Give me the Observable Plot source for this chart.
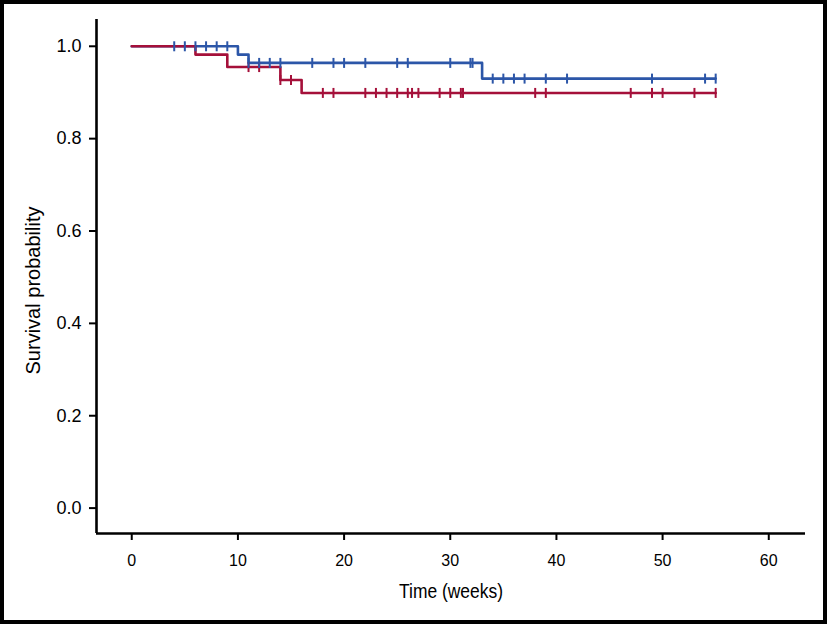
<!DOCTYPE html>
<html><head><meta charset="utf-8">
<script src="https://cdn.jsdelivr.net/npm/d3@7"></script>
<script src="https://cdn.jsdelivr.net/npm/@observablehq/plot@0.6"></script>
<style>
body{margin:0;background:#fff;}
#chart svg{display:block;outline:4px solid #000;outline-offset:-4px;}
</style></head><body><div id="chart"></div>
<script>
const xTicks = [0, 10, 20, 30, 40, 50, 60];
const yTicks = [0, 0.2, 0.4, 0.6, 0.8, 1.0];
const xDomain = [-3.32, 63.46];
const yDomain = [-0.055, 1.058];
const xTitle = "Time (weeks)";
const yTitle = "Survival probability";

const blueTimes = [0, 10, 11, 33, 55];
const blueSurv = [1, 0.982, 0.964, 0.930, 0.930];
const blueCensor = [4, 5, 6, 7, 8, 9, 11, 12, 13, 14, 17, 19, 20, 22, 25, 26, 30, 31.9, 32.1, 34, 35, 36, 37, 39, 41, 49, 54, 55];

const redTimes = [0, 6, 9, 14, 16, 55];
const redSurv = [1, 0.982, 0.955, 0.927, 0.899, 0.899];
const redCensor = [11, 12, 14, 15, 18, 19, 22, 23, 24, 25, 26, 26.4, 27, 29, 30, 31, 31.2, 38, 39, 47, 49, 50, 53, 55];

const blueColor = "#2c56a8";
const redColor = "#a5103a";

function steps(times, surv) { return times.map((t, i) => ({t, s: surv[i]})); }
function censors(times, surv, cens) {
  return cens.map(c => {
    let s = surv[0];
    for (let i = 0; i < times.length; i++) if (times[i] <= c) s = surv[i];
    return {t: c, s};
  });
}
const tickSymbol = {draw(ctx, size) { const r = Math.sqrt(size / Math.PI); ctx.moveTo(0, -r); ctx.lineTo(0, r); }};
const sans = "Liberation Sans, Arial, Helvetica, sans-serif";

const chart = Plot.plot({
  width: 827, height: 624,
  marginLeft: 96, marginRight: 22, marginTop: 19, marginBottom: 91,
  x: {domain: xDomain},
  y: {domain: yDomain},
  marks: [
    Plot.ruleX([xDomain[0]], {y1: yDomain[0], y2: yDomain[1], stroke: "#000", strokeWidth: 2.6}),
    Plot.ruleY([yDomain[0]], {x1: xDomain[0], x2: xDomain[1], stroke: "#000", strokeWidth: 2.6}),
    Plot.axisY(yTicks, {tickSize: 7, tickPadding: 8, tickFormat: d3.format(".1f"), fontSize: 18, fontFamily: sans, strokeWidth: 2, label: null, color: "#000"}),
    Plot.axisX(xTicks, {tickSize: 7, tickPadding: 14, fontSize: 16, fontFamily: sans, strokeWidth: 2, label: null, color: "#000"}),
    Plot.text([yTitle], {frameAnchor: "left", textAnchor: "middle", dx: -63, dy: 14, rotate: -90, fontSize: 20, fontFamily: sans, fill: "#000", className: "ytitle"}),
    Plot.text([xTitle], {frameAnchor: "bottom", textAnchor: "middle", dy: 64, fontSize: 21, fontFamily: sans, fill: "#000", className: "xtitle"}),
    Plot.line(steps(blueTimes, blueSurv), {x: "t", y: "s", curve: "step-after", stroke: blueColor, strokeWidth: 2.6}),
    Plot.line(steps(redTimes, redSurv), {x: "t", y: "s", curve: "step-after", stroke: redColor, strokeWidth: 2.6}),
    Plot.dot(censors(redTimes, redSurv, redCensor), {x: "t", y: "s", r: 5, symbol: tickSymbol, stroke: redColor, strokeWidth: 2, fill: "none"}),
    Plot.dot(censors(blueTimes, blueSurv, blueCensor), {x: "t", y: "s", r: 5, symbol: tickSymbol, stroke: blueColor, strokeWidth: 2, fill: "none"})
  ]
});
// condensed look for axis titles
d3.select(chart).selectAll("g.xtitle text").attr("textLength", 104).attr("lengthAdjust", "spacingAndGlyphs");
d3.select(chart).selectAll("g.ytitle text").attr("textLength", 168).attr("lengthAdjust", "spacingAndGlyphs");
document.getElementById("chart").appendChild(chart);
</script></body></html>
